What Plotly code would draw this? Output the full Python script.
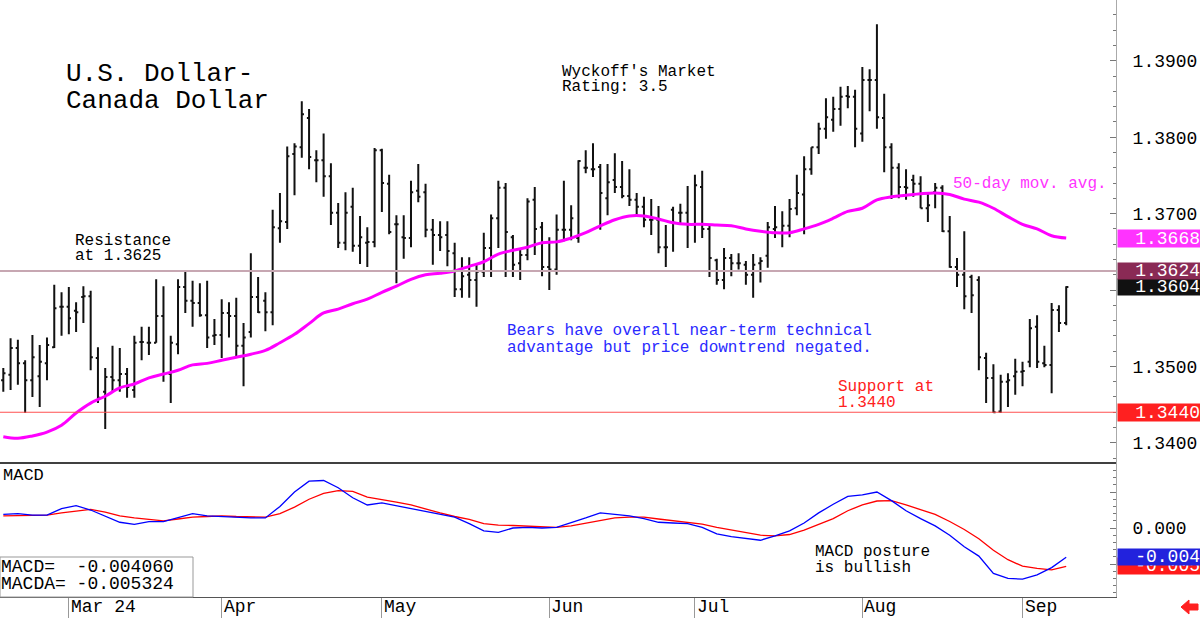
import pandas as pd
import plotly.graph_objects as go

# ---------------- data ----------------
dates = pd.bdate_range("2024-02-19", "2024-09-10")

open_ = [1.3482, 1.3489, 1.3524, 1.3504, 1.3482, 1.3487, 1.3504, 1.3525, 1.3578, 1.3578,
         1.3573, 1.3591, 1.3592, 1.3511, 1.3467, 1.3486, 1.3482, 1.3490, 1.3469, 1.3532,
         1.3531, 1.3531, 1.3566, 1.3490, 1.3529, 1.3604, 1.3586, 1.3583, 1.3567, 1.3540,
         1.3541, 1.3570, 1.3566, 1.3527, 1.3545, 1.3591, 1.3586, 1.3571, 1.3681, 1.3689,
         1.3778, 1.3787, 1.3825, 1.3770, 1.3770, 1.3749, 1.3701, 1.3662, 1.3709, 1.3658,
         1.3662, 1.3663, 1.3783, 1.3739, 1.3686, 1.3669, 1.3668, 1.3730, 1.3728, 1.3679,
         1.3672, 1.3672, 1.3648, 1.3601, 1.3620, 1.3613, 1.3624, 1.3655, 1.3694, 1.3734,
         1.3669, 1.3635, 1.3646, 1.3718, 1.3682, 1.3630, 1.3627, 1.3679, 1.3679, 1.3668,
         1.3760, 1.3758, 1.3761, 1.3720, 1.3744, 1.3735, 1.3723, 1.3718, 1.3709, 1.3692,
         1.3692, 1.3656, 1.3705, 1.3701, 1.3701, 1.3686, 1.3735, 1.3680, 1.3639, 1.3613,
         1.3642, 1.3635, 1.3633, 1.3620, 1.3635, 1.3645, 1.3680, 1.3675, 1.3684, 1.3707,
         1.3725, 1.3758, 1.3787, 1.3811, 1.3823, 1.3837, 1.3854, 1.3853, 1.3805, 1.3875,
         1.3875, 1.3825, 1.3787, 1.3760, 1.3735, 1.3744, 1.3739, 1.3707, 1.3728, 1.3734,
         1.3677, 1.3630, 1.3620, 1.3617, 1.3613, 1.3511, 1.3485, 1.3441, 1.3480, 1.3487,
         1.3493, 1.3506, 1.3552, 1.3504, 1.3502, 1.3574, 1.3557]
high = [1.3498, 1.3537, 1.3535, 1.3508, 1.3541, 1.3528, 1.3538, 1.3607, 1.3597, 1.3604,
        1.3584, 1.3605, 1.3599, 1.3525, 1.3498, 1.3527, 1.3524, 1.3498, 1.3540, 1.3552,
        1.3552, 1.3614, 1.3605, 1.3540, 1.3614, 1.3626, 1.3612, 1.3609, 1.3612, 1.3562,
        1.3588, 1.3584, 1.3590, 1.3557, 1.3648, 1.3617, 1.3597, 1.3705, 1.3727, 1.3788,
        1.3792, 1.3847, 1.3837, 1.3783, 1.3805, 1.3766, 1.3714, 1.3728, 1.3734, 1.3697,
        1.3682, 1.3786, 1.3785, 1.3751, 1.3698, 1.3698, 1.3743, 1.3765, 1.3739, 1.3693,
        1.3690, 1.3690, 1.3662, 1.3643, 1.3643, 1.3635, 1.3675, 1.3699, 1.3743, 1.3740,
        1.3672, 1.3655, 1.3720, 1.3735, 1.3689, 1.3669, 1.3699, 1.3743, 1.3711, 1.3770,
        1.3783, 1.3792, 1.3765, 1.3765, 1.3779, 1.3769, 1.3758, 1.3727, 1.3722, 1.3719,
        1.3710, 1.3685, 1.3709, 1.3713, 1.3736, 1.3751, 1.3756, 1.3685, 1.3641, 1.3655,
        1.3647, 1.3648, 1.3638, 1.3647, 1.3643, 1.3689, 1.3710, 1.3703, 1.3719, 1.3751,
        1.3775, 1.3787, 1.3819, 1.3851, 1.3853, 1.3866, 1.3867, 1.3862, 1.3892, 1.3889,
        1.3948, 1.3857, 1.3792, 1.3766, 1.3758, 1.3751, 1.3749, 1.3727, 1.3740, 1.3737,
        1.3697, 1.3642, 1.3677, 1.3620, 1.3618, 1.3518, 1.3503, 1.3489, 1.3491, 1.3510,
        1.3506, 1.3562, 1.3567, 1.3527, 1.3583, 1.3580, 1.3605]
low = [1.3467, 1.3469, 1.3476, 1.3439, 1.3460, 1.3447, 1.3482, 1.3524, 1.3540, 1.3542,
       1.3545, 1.3557, 1.3495, 1.3452, 1.3418, 1.3467, 1.3467, 1.3459, 1.3459, 1.3508,
       1.3515, 1.3531, 1.3480, 1.3452, 1.3516, 1.3570, 1.3552, 1.3565, 1.3524, 1.3528,
       1.3511, 1.3538, 1.3511, 1.3474, 1.3538, 1.3570, 1.3546, 1.3554, 1.3662, 1.3680,
       1.3724, 1.3773, 1.3758, 1.3741, 1.3722, 1.3685, 1.3655, 1.3652, 1.3650, 1.3634,
       1.3630, 1.3656, 1.3702, 1.3673, 1.3609, 1.3641, 1.3656, 1.3715, 1.3669, 1.3633,
       1.3651, 1.3631, 1.3591, 1.3590, 1.3590, 1.3578, 1.3617, 1.3617, 1.3655, 1.3617,
       1.3617, 1.3613, 1.3639, 1.3646, 1.3618, 1.3600, 1.3620, 1.3664, 1.3665, 1.3662,
       1.3753, 1.3748, 1.3679, 1.3698, 1.3727, 1.3720, 1.3710, 1.3697, 1.3682, 1.3672,
       1.3648, 1.3630, 1.3650, 1.3686, 1.3655, 1.3662, 1.3668, 1.3617, 1.3607, 1.3601,
       1.3618, 1.3627, 1.3607, 1.3590, 1.3610, 1.3629, 1.3668, 1.3656, 1.3669, 1.3698,
       1.3673, 1.3751, 1.3778, 1.3798, 1.3807, 1.3815, 1.3838, 1.3787, 1.3794, 1.3834,
       1.3811, 1.3754, 1.3719, 1.3720, 1.3718, 1.3722, 1.3707, 1.3689, 1.3707, 1.3676,
       1.3629, 1.3604, 1.3575, 1.3570, 1.3495, 1.3452, 1.3439, 1.3439, 1.3447, 1.3463,
       1.3474, 1.3499, 1.3498, 1.3499, 1.3465, 1.3545, 1.3554]
close = [1.3491, 1.3524, 1.3504, 1.3482, 1.3512, 1.3506, 1.3528, 1.3576, 1.3578, 1.3563,
         1.3571, 1.3592, 1.3512, 1.3459, 1.3486, 1.3482, 1.3490, 1.3473, 1.3531, 1.3532,
         1.3531, 1.3566, 1.3490, 1.3531, 1.3604, 1.3586, 1.3583, 1.3567, 1.3538, 1.3541,
         1.3570, 1.3566, 1.3527, 1.3538, 1.3591, 1.3571, 1.3571, 1.3682, 1.3690, 1.3775,
         1.3788, 1.3830, 1.3774, 1.3770, 1.3749, 1.3701, 1.3662, 1.3701, 1.3658, 1.3669,
         1.3663, 1.3783, 1.3740, 1.3676, 1.3686, 1.3668, 1.3728, 1.3722, 1.3679, 1.3672,
         1.3669, 1.3651, 1.3601, 1.3618, 1.3613, 1.3624, 1.3655, 1.3694, 1.3734, 1.3676,
         1.3633, 1.3646, 1.3716, 1.3680, 1.3630, 1.3627, 1.3679, 1.3679, 1.3694, 1.3769,
         1.3760, 1.3758, 1.3727, 1.3741, 1.3735, 1.3723, 1.3718, 1.3709, 1.3692, 1.3692,
         1.3656, 1.3656, 1.3688, 1.3701, 1.3686, 1.3737, 1.3680, 1.3642, 1.3613, 1.3642,
         1.3635, 1.3635, 1.3620, 1.3633, 1.3638, 1.3682, 1.3682, 1.3684, 1.3706, 1.3727,
         1.3758, 1.3787, 1.3811, 1.3826, 1.3837, 1.3853, 1.3853, 1.3811, 1.3875, 1.3875,
         1.3826, 1.3787, 1.3760, 1.3735, 1.3734, 1.3739, 1.3707, 1.3711, 1.3734, 1.3677,
         1.3630, 1.3620, 1.3592, 1.3593, 1.3512, 1.3485, 1.3440, 1.3480, 1.3482, 1.3493,
         1.3494, 1.3550, 1.3506, 1.3502, 1.3574, 1.3557, 1.3604]

# 50-day moving average, read every second session
ma50 = [1.3408, 1.3406, 1.3409, 1.3414, 1.3423, 1.3439, 1.3452, 1.3461, 1.3472, 1.3477,
        1.3485, 1.3490, 1.3495, 1.3502, 1.3504, 1.3508, 1.3512, 1.3516, 1.3521, 1.3531,
        1.3542, 1.3556, 1.3570, 1.3575, 1.3582, 1.3588, 1.3597, 1.3605, 1.3614, 1.3620,
        1.3622, 1.3625, 1.3631, 1.3637, 1.3647, 1.3652, 1.3656, 1.3662, 1.3663, 1.3668,
        1.3675, 1.3684, 1.3692, 1.3697, 1.3697, 1.3693, 1.3688, 1.3686, 1.3686, 1.3685,
        1.3684, 1.3680, 1.3677, 1.3675, 1.3675, 1.3680, 1.3686, 1.3694, 1.3703, 1.3707,
        1.3718, 1.3722, 1.3724, 1.3726, 1.3727, 1.3725, 1.3719, 1.3715, 1.3707, 1.3696,
        1.3686, 1.3680, 1.3671, 1.3668]

# MACD (blue) and its average MACDA (red), read every second session
macd = [0.0019, 0.0020, 0.0018, 0.0018, 0.0027, 0.0031, 0.0025, 0.0016, 0.0008, 0.0005,
        0.0009, 0.0009, 0.0015, 0.0020, 0.0017, 0.0016, 0.0014, 0.0014, 0.0014, 0.0030,
        0.0050, 0.0065, 0.0066, 0.0056, 0.0042, 0.0032, 0.0035, 0.0031, 0.0026, 0.0023,
        0.0018, 0.0015, 0.0006, -0.0004, -0.0006, 0.0000, 0.0001, 0.0000, 0.0001, 0.0007,
        0.0014, 0.0021, 0.0019, 0.0017, 0.0013, 0.0008, 0.0007, 0.0006, 0.0001, -0.0008,
        -0.0012, -0.0015, -0.0017, -0.0011, -0.0004, 0.0007, 0.0021, 0.0033, 0.0044, 0.0046,
        0.0050, 0.0038, 0.0024, 0.0013, 0.0003, -0.0010, -0.0026, -0.0039, -0.0063, -0.0070,
        -0.0071, -0.0065, -0.0055, -0.004060]
macda = [0.0017, 0.0017, 0.0017, 0.0018, 0.0021, 0.0024, 0.0026, 0.0022, 0.0017, 0.0014,
         0.0012, 0.0010, 0.00125, 0.0015, 0.0016, 0.0017, 0.0016, 0.0015, 0.0015, 0.0020,
         0.0029, 0.0040, 0.0048, 0.0052, 0.0051, 0.0043, 0.0040, 0.0036, 0.0032, 0.0026,
         0.0021, 0.0016, 0.0012, 0.0006, 0.0004, 0.00035, 0.0003, 0.0002, 0.0001, 0.0003,
         0.0007, 0.0011, 0.0014, 0.0015, 0.0015, 0.00125, 0.0010, 0.0008, 0.00055, 0.0001,
         -0.0003, -0.0006, -0.0010, -0.0011, -0.0009, -0.0003, 0.0005, 0.0013, 0.0024, 0.0032,
         0.00375, 0.0038, 0.0032, 0.0026, 0.0019, 0.0009, -0.0002, -0.0015, -0.0031, -0.0044,
         -0.0053, -0.0056, -0.0058, -0.005324]

month_ticks = ["2024-03-01", "2024-04-01", "2024-05-01", "2024-06-03",
               "2024-07-01", "2024-08-01", "2024-09-02"]
month_labels = ["Mar 24", "Apr", "May", "Jun", "Jul", "Aug", "Sep"]

price_ticks = [1.34, 1.35, 1.36, 1.37, 1.38, 1.39]
price_ticktext = ["1.3400", "1.3500", "", "1.3700", "1.3800", "1.3900"]
macd_ticks = [-0.005, 0.0, 0.005]
macd_ticktext = ["", "0.000", ""]

resistance = 1.3625
resistance_label = 1.3624
support = 1.3440
last_close = close[-1]
last_ma = ma50[-1]
last_macd = macd[-1]
last_macda = macda[-1]

# ---------------- figure ----------------
FONT = "Liberation Mono"
W, H = 1116, 597          # plot area in pixels
SPLIT = 463               # panel separator (px from top)


def px(x):
    return x / W


def py(y):
    return 1 - y / H


ma_dates = dates[::2]

fig = go.Figure()
fig.add_trace(go.Ohlc(
    x=dates, open=open_, high=high, low=low, close=close,
    increasing=dict(line=dict(color="#111111", width=2)),
    decreasing=dict(line=dict(color="#111111", width=2)),
    tickwidth=0.3, xaxis="x", yaxis="y", showlegend=False, hoverinfo="skip"))
fig.add_trace(go.Scatter(
    x=ma_dates, y=ma50, mode="lines", line=dict(color="#ff00ff", width=3, shape="spline"),
    xaxis="x", yaxis="y", showlegend=False, hoverinfo="skip"))
fig.add_trace(go.Scatter(
    x=ma_dates, y=macda, mode="lines", line=dict(color="#ff0000", width=1.3),
    xaxis="x2", yaxis="y2", showlegend=False, hoverinfo="skip"))
fig.add_trace(go.Scatter(
    x=ma_dates, y=macd, mode="lines", line=dict(color="#0000ff", width=1.3),
    xaxis="x2", yaxis="y2", showlegend=False, hoverinfo="skip"))

split_frac = 1 - SPLIT / H
xrange_ = ["2024-02-16 13:07", "2024-09-18 20:10"]
rb = [dict(bounds=["sat", "mon"])]

fig.update_layout(
    width=1200, height=618,
    margin=dict(l=0, r=84, t=0, b=21),
    paper_bgcolor="white", plot_bgcolor="white",
    font=dict(family=FONT, color="black"),
    showlegend=False,
    xaxis=dict(domain=[0, 1], anchor="y", type="date", range=xrange_, rangebreaks=rb,
               rangeslider=dict(visible=False), showticklabels=False, ticks="",
               showgrid=False, zeroline=False, showline=False),
    yaxis=dict(domain=[split_frac, 1], anchor="x", side="right",
               range=[1.33736, 1.39796], tickvals=price_ticks, ticktext=price_ticktext,
               ticks="inside", ticklen=6, tickcolor="#777", showline=True,
               linecolor="#aaaaaa", linewidth=1, showgrid=False, zeroline=False,
               tickfont=dict(family=FONT, size=18, color="black"), ticklabelstandoff=12,
               minor=dict(dtick=0.002, ticks="inside", ticklen=3, tickcolor="#777")),
    xaxis2=dict(domain=[0, 1], anchor="y2", type="date", matches="x", range=xrange_,
                rangebreaks=rb, tickvals=month_ticks, showticklabels=False,
                ticks="outside", ticklen=21, tickcolor="#999999", tickwidth=1,
                showline=True, linecolor="#555555", linewidth=1,
                showgrid=False, zeroline=False),
    yaxis2=dict(domain=[0, split_frac], anchor="x2", side="right",
                range=[-0.00958, 0.00903], tickvals=macd_ticks, ticktext=macd_ticktext,
                ticks="inside", ticklen=6, tickcolor="#777", showline=True,
                linecolor="#aaaaaa", linewidth=1, showgrid=False, zeroline=False,
                tickfont=dict(family=FONT, size=18, color="black"), ticklabelstandoff=12,
                minor=dict(dtick=0.001, ticks="inside", ticklen=3, tickcolor="#777")),
)

shapes = [
    # resistance and support lines
    dict(type="line", xref="paper", yref="y", x0=0, x1=1, y0=resistance, y1=resistance,
         line=dict(color="#c7a7b2", width=2)),
    dict(type="line", xref="paper", yref="y", x0=0, x1=1, y0=support, y1=support,
         line=dict(color="#ff5050", width=1.2)),
    # panel separator
    dict(type="line", xref="paper", yref="paper", x0=0, x1=1, y0=split_frac, y1=split_frac,
         line=dict(color="#000000", width=1.6)),
    # MACD value box
    dict(type="rect", xref="paper", yref="paper", x0=px(0), x1=px(193), y0=py(597), y1=py(557),
         fillcolor="white", line=dict(color="#999999", width=1)),
    # red arrow bottom right
    dict(type="path", xref="paper", yref="paper",
         path=f"M {px(1181)},{py(607)} L {px(1189)},{py(600)} L {px(1189)},{py(604)} "
              f"L {px(1198)},{py(604)} L {px(1198)},{py(610)} L {px(1189)},{py(610)} "
              f"L {px(1189)},{py(614)} Z",
         fillcolor="#ff2020", line=dict(color="#ff2020", width=1)),
]
fig.update_layout(shapes=shapes)

ann = []


def text(x, y, s, size=16, color="black"):
    ann.append(dict(xref="paper", yref="paper", x=px(x), y=py(y), text=s, showarrow=False,
                    xanchor="left", yanchor="middle", align="left",
                    font=dict(family=FONT, size=size, color=color)))


text(64, 74, "U.S. Dollar-", size=26)
text(64, 101, "Canada Dollar", size=26)
text(560, 72, "Wyckoff's Market")
text(560, 87, "Rating: 3.5")
text(73, 241, "Resistance")
text(73, 256, f"at {resistance:.4f}")
text(505, 331, "Bears have overall near-term technical", color="#2a2aff")
text(505, 348, "advantage but price downtrend negated.", color="#2a2aff")
text(836, 387, "Support at", color="#ff2020")
text(836, 403, f"{support:.4f}", color="#ff2020")
text(951, 184, "50-day mov. avg.", color="#ff33ff")
text(1, 475, "MACD", size=17)
text(813, 552, "MACD posture")
text(813, 568, "is bullish")
text(-1, 567, "MACD=\u00a0\u00a0" + f"{last_macd:.6f}", size=18)
text(-1, 584, "MACDA=\u00a0" + f"{last_macda:.6f}", size=18)

# month labels to the right of the separators
for d, lab in zip(month_ticks, month_labels):
    ann.append(dict(xref="x2", yref="paper", x=d, y=py(607), text=lab, showarrow=False,
                    xanchor="left", yanchor="middle", xshift=0,
                    font=dict(family=FONT, size=18, color="black")))


def box(yref, val, s, bg, yshift=0, h=16):
    ann.append(dict(xref="paper", yref=yref, x=1, y=val, text=s, showarrow=False,
                    xanchor="left", yanchor="middle", xshift=1, yshift=yshift,
                    width=82, height=h, align="right", bgcolor=bg, borderpad=0,
                    font=dict(family=FONT, size=18, color="white")))


box("y", last_ma, f"{last_ma:.4f}", "#ff33ff", h=17)
box("y", last_close, f"{last_close:.4f}", "#111111")
box("y", resistance_label, f"{resistance_label:.4f}", "#8a2a55", yshift=1)
box("y", support, f"{support:.4f}", "#ff2020", h=17)
box("y2", last_macda, f"{last_macda:.3f}", "#ff1a1a")
box("y2", last_macd, f"{last_macd:.3f}", "#2222dd")

fig.update_layout(annotations=ann)
fig.write_html("out.html")
